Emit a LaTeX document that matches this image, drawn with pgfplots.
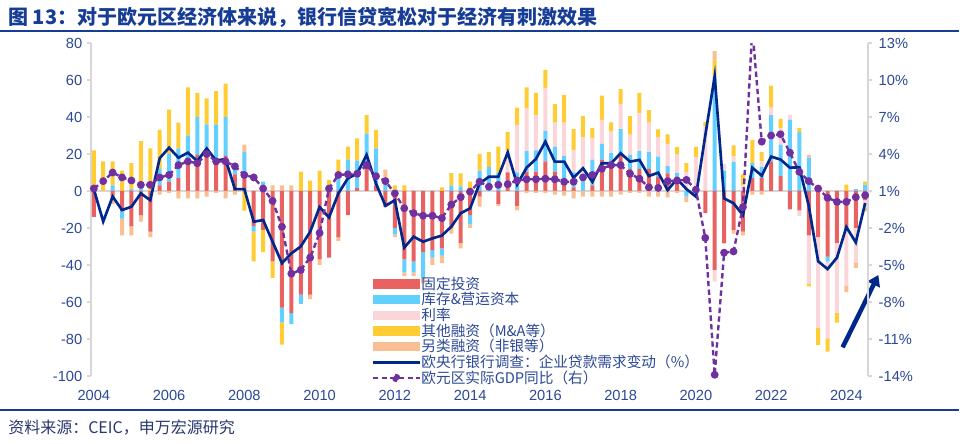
\documentclass[border=0pt]{standalone}
\usepackage{fontspec}
\setmainfont{Liberation Sans}
\newfontfamily\cjk{Noto Sans CJK SC}
\usepackage{pgfplots}
\pgfplotsset{compat=1.18}
\usepackage{pgfplotstable}
\usetikzlibrary{arrows.meta}

\definecolor{cFI}{RGB}{232,98,98}
\definecolor{cINV}{RGB}{98,208,255}
\definecolor{cRATE}{RGB}{250,214,218}
\definecolor{cOTH}{RGB}{255,204,51}
\definecolor{cALT}{RGB}{249,190,145}
\definecolor{cNAVY}{RGB}{0,40,140}
\definecolor{cGDP}{RGB}{112,48,160}
\definecolor{cTick}{RGB}{44,72,150}
\definecolor{cTitle}{RGB}{22,60,150}
\definecolor{cAxis}{RGB}{215,215,215}
\definecolor{cFoot}{RGB}{40,55,110}

\pgfplotstableread{
i fi inv rate oth alt dem gdp
0 -14 0 0 22 0 1 1.2
1 0 0 0 16 0 -16.5 1.8
2 -4 3 0 13 -3 -3 2.5
3 -11 -4 0 11 -9 -10.3 2.1
4 -19 1 0 14 -5 -8.5 1.85
5 -13 5 0 22 -3.5 -1.3 1.5
6 -22 0 0 23 -3 -5 1.5
7 3 9 0 21 -2 17.7 2.1
8 5 15 0 24 -1 23.4 2.3
9 7 16 0 14 -4 18 3.1
10 14 16 0 26 -4 20.7 3.4
11 19.5 20.5 0 13 -4 16.2 3.25
12 20 16 0 14 -3 23 4.0
13 17 19 0 18 -1 16.4 3.4
14 19 21 0 18 -4 17.3 3.4
15 9 6 0 0 -2 1 3.0
16 7 14 0 -10.6 4 1 2.3
17 -19 -3 0 -16 0 -16.6 2.1
18 -21 5 0 -12 0 -15.7 1.2
19 -38 0 0 -9 3 -27.4 0.2
20 -63 -8 0 -12 3 -39 -1.9
21 -66 -6 0 0 3 -33.7 -5.7
22 -56 -5 0 10.5 0 -30 -5.4
23 -56 0 0 5.6 -2.5 -22 -4.4
24 -37 0 0 11 -3 -8.7 -2.4
25 -36 0 0 6 0 -14.3 1.2
26 -25 8 0 9 -2 -1.3 2.3
27 -13 17 0 7 0 6.8 2.35
28 1.5 15 0 12 0 9.5 2.4
29 14 17 0 10 0 19.5 3.1
30 3 20 0 10 0 4 2.2
31 -8.6 6 0 0 5.5 -8 1.8
32 -20 -3.5 0 3 -1.5 -5 0.8
33 -37 -7 0 3 -2 -30.6 -0.4
34 -38 -6 0 0 -2 -24.7 -0.8
35 -33 -14 0 0 -3 -27.4 -1.0
36 -32 -4 0 0 -4 -25.6 -1.0
37 -31 -4 0 2 -4 -24.1 -1.2
38 -20 3 0 6.7 -3 -19.3 -0.1
39 -28 2.5 0 7 -3 -12 0.5
40 -13 -5 0 5 -2 -9.4 0.95
41 -3 11 0 9 -5.5 4 1.75
42 0 13 0 8 0 7.7 1.35
43 -7 10 0 14 -1 7.7 1.5
44 10 0 12 10 0 20.9 1.55
45 -8 10 25.6 9.5 -2.5 3.5 1.85
46 10.5 11 23 11.5 -1 12.6 1.95
47 10.5 11.5 19 12 -1 17.3 1.95
48 16 16.5 23 10 -1 26.7 2.0
49 10.5 13.5 13 10 -2 15.9 1.95
50 5 14 18 15 -2.5 15.9 1.75
51 2 8 12 11.5 -4 7.2 1.75
52 0 7 22 11.5 -3 12.3 2.1
53 3 14 11.5 5.5 -3 5 2.3
54 17 8.5 12.6 13.5 -3 15 2.8
55 16 4.5 11.6 5 -3 15 3.1
56 19 14.5 13.3 8.3 -2 20.4 3.1
57 12 7.5 11 10 -1 15.9 2.4
58 12 9.6 20.4 11 -1 16.8 2.0
59 12 9 16 6.7 -3 8.1 1.3
60 7.7 10.9 10.2 4.5 -3 9.9 1.25
61 9.5 4 11.7 5.4 -3.5 0.5 1.8
62 7.6 2 10 4.2 -1 6.5 1.85
63 0 -3 10.3 4.7 -3 1 1.9
64 0 0 18.4 5.4 0 -3 1.1
65 -12 0 35 2.3 0 30 -2.8
66 -42.7 61.6 -6.3 9 5 62 -13.9
67 -28.3 11 3.5 0 0 -4 -4.0
68 -21 15.7 3 6 -2 -6.6 -3.9
69 -22 0 3 6 -2 -13 -0.3
70 7 8 0 12.6 -2 12.6 14.2
71 7 6 3 5 -2 8.3 5.0
72 16 25 4 12 0 18.6 5.5
73 8 17 9 5 0 17 5.6
74 -10 38.4 2.7 0 0 12.6 4.1
75 -10.5 32 -3 2 0 12.8 2.55
76 -24 18 -26 -1.5 1.5 -8 1.8
77 -25 0 -49 -9.2 0 -38 1.2
78 -35.5 -2.7 -41.4 -7.2 0 -42.2 0.45
79 -28 0 -37.7 -5.4 0 -36 0.12
80 -21 0 -30 3.5 -3.6 -19.5 0.12
81 -20 1 -18.6 0 -3 -27.8 0.5
82 -5 3.5 -4 1.5 -2 -6.5 0.65
}\data

\pgfplotsset{
  common/.style={scale only axis, width=582.75pt, height=249.75pt,
    at={(68.25pt,50.25pt)}, anchor=south west, xmin=-0.3, xmax=82.3},
  barsty/.style={ybar stacked, bar width=3pt},
}

\begin{document}
\begin{tikzpicture}
\path[use as bounding box] (0,0) rectangle (720pt,332.25pt);

% positive stacks + left axis
\begin{axis}[common, barsty, ymin=-100, ymax=80,
  axis x line*=bottom, x axis line style={draw=none},
  xtick={0,8,...,80}, xticklabels={2004,2006,2008,2010,2012,2014,2016,2018,2020,2022,2024},
  xtick style={draw=none},
  xticklabel style={yshift=-4pt},
  axis y line*=left, y axis line style={cAxis, line width=0.8pt},
  ytick={-100,-80,...,80}, ytick style={cAxis, line width=0.8pt},
  tick align=outside, major tick length=3pt,
  extra y ticks={0}, extra y tick labels={},
  extra y tick style={grid=major, major grid style={cAxis, line width=1.2pt}},
  ticklabel style={font=\fontsize{11}{13}\selectfont, text=cTick},
  /pgf/number format/assume math mode=true]
\addplot[fill=cFI, draw=none] table[x=i, y expr={max(\thisrow{fi},0)}] {\data};
\addplot[fill=cINV, draw=none] table[x=i, y expr={max(\thisrow{inv},0)}] {\data};
\addplot[fill=cRATE, draw=none] table[x=i, y expr={max(\thisrow{rate},0)}] {\data};
\addplot[fill=cOTH, draw=none] table[x=i, y expr={max(\thisrow{oth},0)}] {\data};
\addplot[fill=cALT, draw=none] table[x=i, y expr={max(\thisrow{alt},0)}] {\data};
\end{axis}

% negative stacks
\begin{axis}[common, barsty, ymin=-100, ymax=80, hide axis]
\addplot[fill=cFI, draw=none] table[x=i, y expr={min(\thisrow{fi},0)}] {\data};
\addplot[fill=cINV, draw=none] table[x=i, y expr={min(\thisrow{inv},0)}] {\data};
\addplot[fill=cRATE, draw=none] table[x=i, y expr={min(\thisrow{rate},0)}] {\data};
\addplot[fill=cOTH, draw=none] table[x=i, y expr={min(\thisrow{oth},0)}] {\data};
\addplot[fill=cALT, draw=none] table[x=i, y expr={min(\thisrow{alt},0)}] {\data};
\end{axis}

% demand line + arrow
\begin{axis}[common, ymin=-100, ymax=80, hide axis, clip=false]
\addplot[cNAVY, line width=2pt, mark=none] table[x=i, y=dem] {\data};
\draw[cNAVY, line width=3.4pt, -{Triangle[length=8pt,width=10pt]}] (axis cs:79.6,-84.5) -- (axis cs:83.4,-45.4);
\end{axis}

% GDP, right axis, legend
\begin{axis}[common, ymin=-14, ymax=13,
  axis x line=none, axis y line*=right,
  y axis line style={cAxis, line width=0.8pt},
  ytick={-14,-11,-8,-5,-2,1,4,7,10,13}, ytick style={cAxis, line width=0.8pt},
  tick align=outside, major tick length=3pt,
  yticklabel={\pgfmathprintnumber{\tick}\%},
  yticklabel style={font=\fontsize{11}{13}\selectfont, text=cTick, xshift=1.5pt},
  /pgf/number format/assume math mode=true,
  legend style={at={(0.361,0.30)}, anchor=north west, draw=none, fill=none,
    inner sep=0pt, outer sep=0pt, font=\cjk\fontsize{11}{12}\selectfont, text=cTick,
    nodes={inner sep=0.45pt},
    /tikz/every even column/.append style={column sep=4pt}},
  legend cell align=left]
\addlegendimage{legend image code/.code={\fill[cFI] (0pt,-3.2pt) rectangle (35pt,3.2pt);}}
\addlegendentry{固定投资}
\addlegendimage{legend image code/.code={\fill[cINV] (0pt,-3.2pt) rectangle (35pt,3.2pt);}}
\addlegendentry{库存\&营运资本}
\addlegendimage{legend image code/.code={\fill[cRATE] (0pt,-3.2pt) rectangle (35pt,3.2pt);}}
\addlegendentry{利率}
\addlegendimage{legend image code/.code={\fill[cOTH] (0pt,-3.2pt) rectangle (35pt,3.2pt);}}
\addlegendentry{其他融资（M\&A等）}
\addlegendimage{legend image code/.code={\fill[cALT] (0pt,-3.2pt) rectangle (35pt,3.2pt);}}
\addlegendentry{另类融资（非银等）}
\addlegendimage{legend image code/.code={\draw[cNAVY, line width=2pt] (0pt,0pt) -- (35pt,0pt);}}
\addlegendentry{欧央行银行调查：企业贷款需求变动（\%）}
\addplot[cGDP, line width=1.8pt, dash pattern=on 4pt off 2.5pt, mark=*, mark size=2pt,
  mark options={solid, fill=cGDP, draw=cGDP},
  legend image code/.code={\draw[cGDP, line width=1.8pt, dash pattern=on 4pt off 2.5pt] (0pt,0pt) -- (35pt,0pt); \fill[cGDP] (17.5pt,0pt) circle (2.2pt);}]
  table[x=i, y=gdp] {\data};
\addlegendentry{欧元区实际GDP同比（右）}
\end{axis}

\node[anchor=west, text=cTitle, font=\cjk\bfseries\fontsize{15}{17}\selectfont, inner sep=0pt] at (6pt,319.5pt) {图 13：对于欧元区经济体来说，银行信贷宽松对于经济有刺激效果};
\draw[cTitle, line width=1.5pt] (0pt,309pt) -- (719pt,309pt);
\draw[cTitle, line width=1.5pt] (0pt,24.75pt) -- (719pt,24.75pt);
\node[anchor=west, text=cFoot, font=\cjk\fontsize{12}{14}\selectfont, inner sep=0pt] at (6pt,11.25pt) {资料来源：CEIC，申万宏源研究};
\end{tikzpicture}
\end{document}
